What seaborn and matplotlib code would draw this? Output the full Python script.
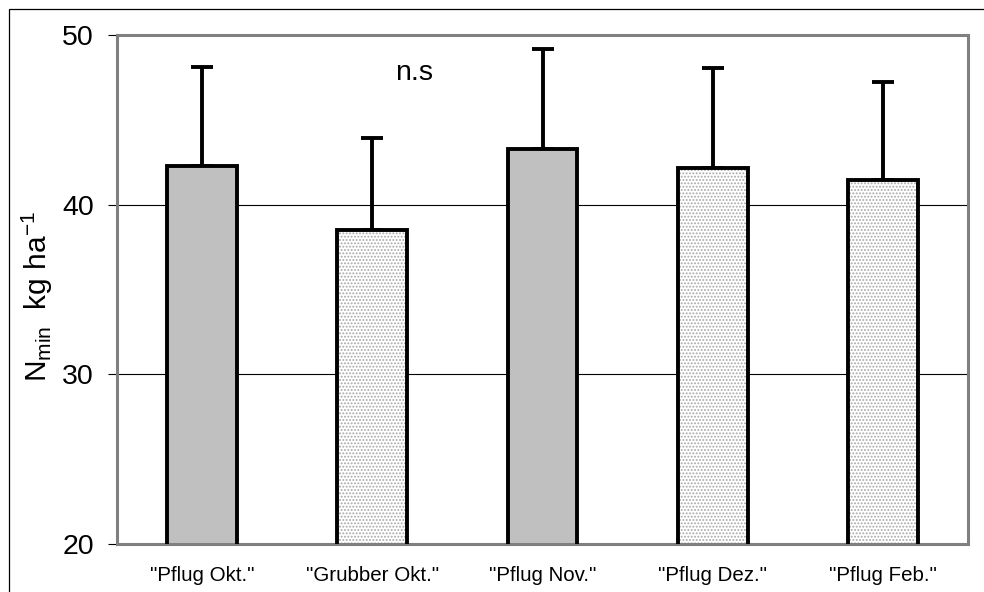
import matplotlib
matplotlib.use("Agg")
import matplotlib.pyplot as plt
import matplotlib.patches as mpatches
import seaborn as sns
import numpy as np

# Nmin values per tillage variant (kg N/ha) with standard deviation (upper only)
categories = ['"Pflug Okt."', '"Grubber Okt."', '"Pflug Nov."', '"Pflug Dez."', '"Pflug Feb."']
means = [42.3, 38.5, 43.3, 42.15, 41.45]
sd_upper = [5.8, 5.4, 5.9, 5.9, 5.8]
dotted = [False, True, False, True, True]
y_ticks = [20, 30, 40, 50]

sns.set_theme(style="white")
plt.rcParams["font.family"] = ["Liberation Sans", "DejaVu Sans"]
plt.rcParams["mathtext.fontset"] = "custom"
plt.rcParams["mathtext.rm"] = "Liberation Sans"
plt.rcParams["mathtext.it"] = "Liberation Sans"
plt.rcParams["hatch.linewidth"] = 0.9

fig = plt.figure(figsize=(9.84, 5.92), dpi=100)
ax = fig.add_axes([117 / 984, 1 - 544 / 592, (968 - 117) / 984, (544 - 35) / 592])

fills = ["white" if d else "#c0c0c0" for d in dotted]

# Fill layer (dotted pattern for some bars)
sns.barplot(x=categories, y=means, hue=categories, palette=fills, legend=False,
            width=0.41, linewidth=0, saturation=1, ax=ax, zorder=2)
for bar, d in zip(ax.patches, dotted):
    if d:
        bar.set_edgecolor("#a8a8a8")
        bar.set_linewidth(0)
        bar.set_hatch(".....")

# Outline layer
n_fill = len(ax.patches)
sns.barplot(x=categories, y=means, color="white", fill=False, width=0.41,
            edgecolor="black", linewidth=2.8, ax=ax, zorder=3)
for bar in ax.patches[n_fill:]:
    bar.set_facecolor("none")
    bar.set_edgecolor("black")
    bar.set_linewidth(2.8)
    bar.set_joinstyle("miter")

# Upper error bars
x_pos = np.arange(len(categories))
ax.errorbar(x_pos, means, yerr=[np.zeros(len(means)), sd_upper], fmt="none",
            ecolor="black", elinewidth=2.8, capsize=8, capthick=2.8, zorder=1)

ax.set_ylim(20, 50)
ax.set_xlim(-0.5, len(categories) - 0.5)
ax.set_yticks(y_ticks)
for g in [30, 40]:
    ax.axhline(g, color="black", lw=0.8, zorder=0)

for s in ax.spines.values():
    s.set_visible(True)
    s.set_color("#808080")
    s.set_linewidth(2.2)

ax.tick_params(axis="y", which="major", direction="out", length=6.5, width=0.8,
               color="black", labelsize=20.5, pad=10, left=True)
ax.tick_params(axis="x", length=0, labelsize=14.8, pad=16)
for lbl in ax.get_xticklabels():
    lbl.set_color("black")
for lbl in ax.get_yticklabels():
    lbl.set_color("black")

ax.set_xlabel("")
ax.set_ylabel(r"$\mathregular{N_{min}\ \ kg\ ha^{-1}}$", fontsize=21.5,
              color="black", va="center", ha="center")
ax.yaxis.set_label_coords((37 - 117) / 851, (544 - 296) / 509)

ax.text(1.245, 47.34, "n.s", fontsize=20.5, ha="center", va="baseline", color="black")

# Outer frame of the figure
frame = mpatches.Rectangle((8.5 / 984, -0.2), 1.2, 1.2 - 9 / 592, transform=fig.transFigure,
                           fill=False, edgecolor="black", lw=0.9, clip_on=False)
fig.add_artist(frame)

fig.savefig("out.png", dpi=100, facecolor="white")
